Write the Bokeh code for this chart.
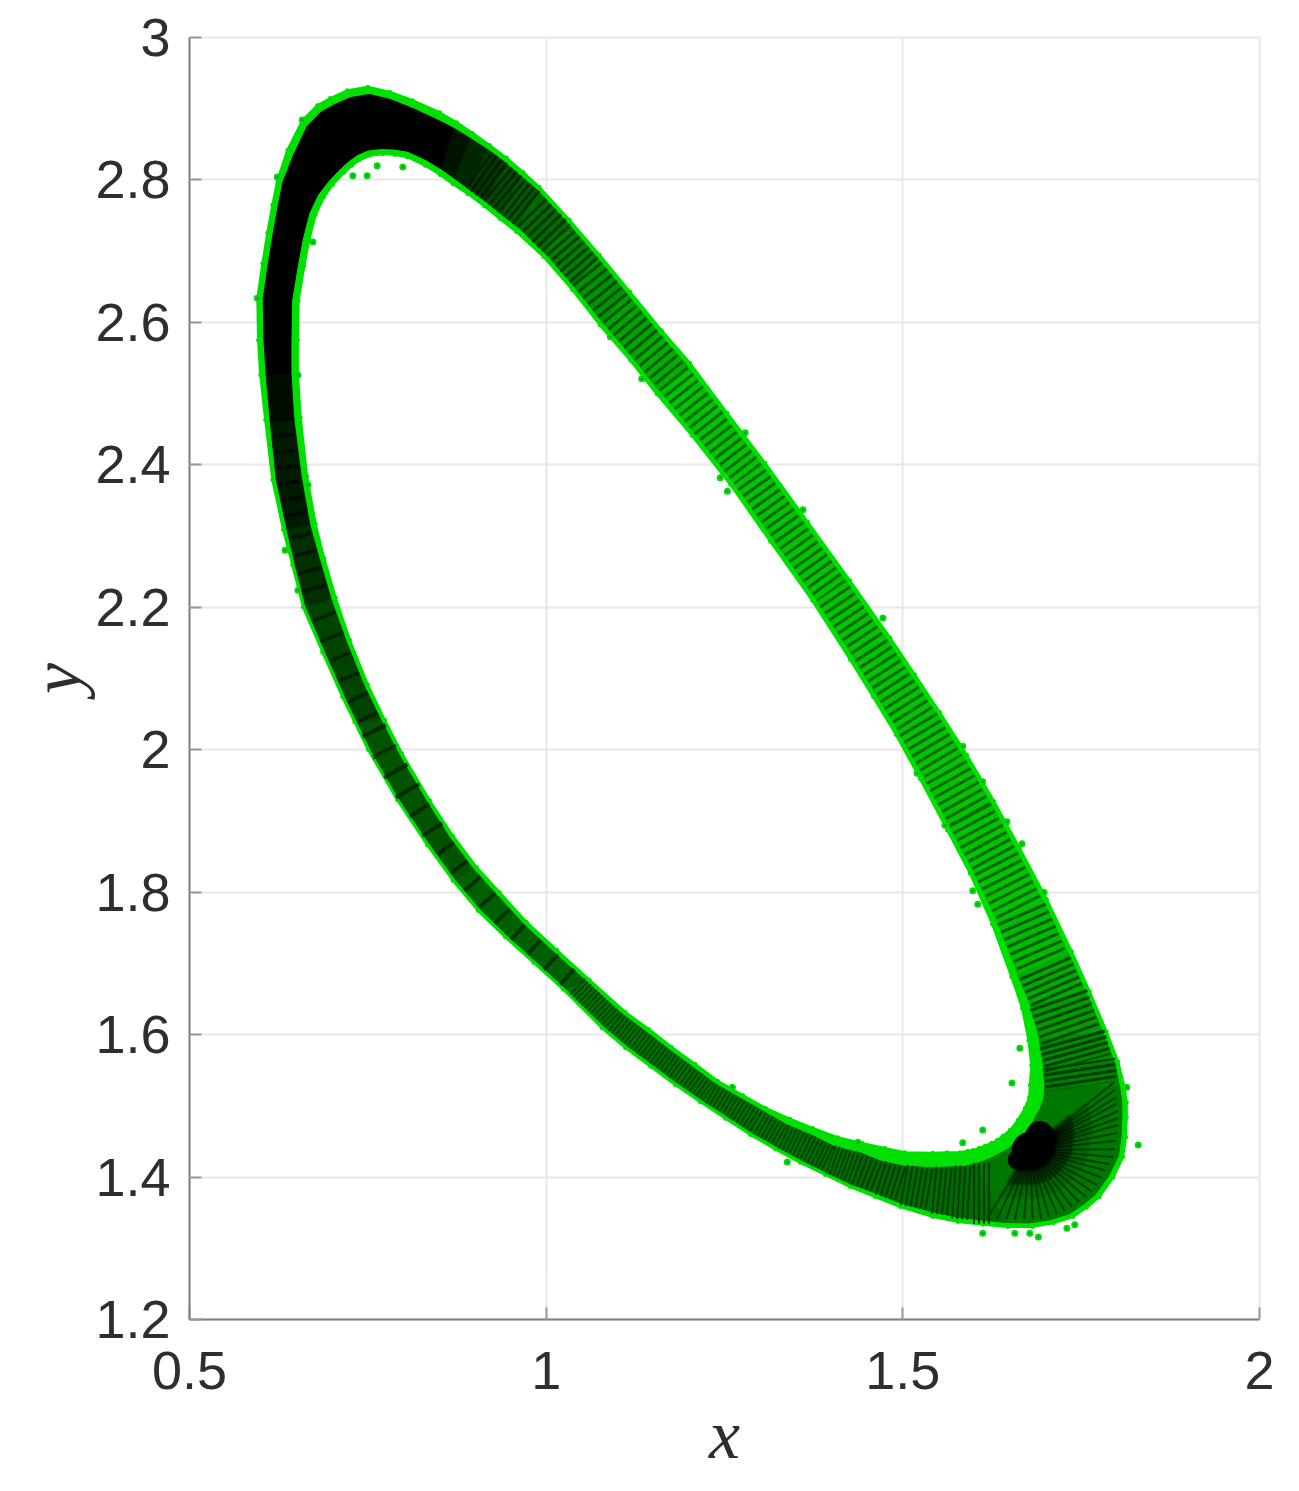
from bokeh.plotting import figure
from bokeh.models import Range1d, FixedTicker
from bokeh.embed import file_html
from bokeh.resources import INLINE
import math

# Outer and inner edge of the green band, paired station by station, clockwise from the apex
outer_x = [.750,.781,.813,.851,.875,.897,.921,.945,.968,.991,1.033,1.075,1.118,1.162,1.202,1.254,1.307,1.367,1.426,1.482,1.517,1.552,1.590,1.628,1.664,1.702,1.737,1.762,1.786,1.802,1.811,1.814,1.814,1.813,1.809,1.795,1.776,1.758,1.739,1.711,1.682,1.647,1.612,1.577,1.542,1.496,1.461,1.426,1.391,1.356,1.321,1.286,1.251,1.216,1.181,1.146,1.111,1.078,1.024,.982,.942,.904,.869,.833,.791,.750,.731,.714,.686,.659,.644,.631,.616,.606,.599,.596,.595,.602,.609,.616,.623,.637,.658,.679,.697,.721]
outer_y = [2.931,2.924,2.912,2.895,2.881,2.866,2.849,2.831,2.811,2.790,2.744,2.695,2.643,2.589,2.543,2.473,2.403,2.320,2.238,2.158,2.106,2.053,1.993,1.928,1.862,1.790,1.717,1.661,1.604,1.562,1.526,1.505,1.484,1.456,1.428,1.399,1.372,1.357,1.344,1.335,1.330,1.330,1.333,1.337,1.344,1.358,1.372,1.386,1.403,1.420,1.439,1.459,1.482,1.505,1.529,1.555,1.581,1.609,1.663,1.701,1.737,1.774,1.816,1.866,1.929,2.000,2.039,2.074,2.137,2.200,2.259,2.309,2.379,2.463,2.526,2.575,2.634,2.683,2.726,2.765,2.800,2.842,2.884,2.905,2.915,2.926]
inner_x = [.771,.788,.805,.830,.851,.869,.890,.913,.935,.958,.996,1.036,1.075,1.118,1.155,1.204,1.258,1.314,1.373,1.426,1.458,1.490,1.524,1.562,1.594,1.625,1.652,1.667,1.676,1.680,1.678,1.677,1.671,1.661,1.650,1.640,1.632,1.624,1.615,1.607,1.598,1.591,1.580,1.562,1.542,1.503,1.475,1.443,1.409,1.374,1.342,1.308,1.276,1.241,1.209,1.176,1.144,1.111,1.061,1.015,.973,.935,.903,.869,.837,.798,.774,.750,.725,.705,.689,.677,.665,.656,.652,.652,.653,.661,.668,.677,.689,.701,.717,.728,.739,.753]
inner_y = [2.836,2.835,2.832,2.820,2.807,2.794,2.780,2.763,2.745,2.727,2.692,2.646,2.596,2.546,2.499,2.441,2.372,2.292,2.209,2.126,2.074,2.021,1.959,1.887,1.826,1.755,1.681,1.637,1.592,1.557,1.529,1.512,1.497,1.480,1.466,1.458,1.452,1.448,1.444,1.441,1.438,1.437,1.435,1.435,1.434,1.435,1.441,1.448,1.456,1.469,1.482,1.497,1.515,1.535,1.559,1.583,1.608,1.632,1.677,1.719,1.758,1.800,1.835,1.880,1.929,1.995,2.042,2.092,2.154,2.214,2.269,2.317,2.384,2.466,2.529,2.575,2.630,2.679,2.716,2.751,2.776,2.793,2.810,2.820,2.828,2.834]

# Rim ends of the fan of strokes at the lower right, and where the fan meets
fan_x = [1.795,1.797,1.799,1.800,1.802,1.802,1.802,1.800,1.799,1.797,1.795,1.790,1.785,1.779,1.772,1.765,1.757,1.747,1.737,1.727,1.716,1.705,1.694,1.682,1.670,1.657,1.645,1.632,1.619]
fan_y = [1.532,1.522,1.512,1.503,1.493,1.483,1.473,1.462,1.451,1.439,1.428,1.418,1.409,1.399,1.389,1.380,1.372,1.365,1.358,1.352,1.348,1.344,1.341,1.340,1.340,1.340,1.341,1.341,1.343]
hub_x = [1.692,1.678,1.661]
hub_y = [1.459,1.438,1.424]
hub_size = [28,36,20]

# Stray points just off the band
stray_x = [1.653,1.612,1.584,1.664,1.830,1.814,1.612,1.657,1.678,1.690,1.730,1.741,.749,.763,.729,.799,.673,.623,.595,.658,1.090,1.134,1.244,1.254,1.360,1.279,.652,.666,.634,.652,1.472,1.584,1.520,1.612,1.646,1.667,1.598,1.605,1.698,1.559,1.261,1.437,1.338]
stray_y = [1.532,1.466,1.448,1.581,1.445,1.526,1.321,1.321,1.321,1.316,1.328,1.333,2.806,2.820,2.806,2.818,2.713,2.804,2.634,2.884,2.580,2.521,2.382,2.363,2.337,2.445,2.526,2.372,2.280,2.224,2.185,2.005,1.967,1.955,1.899,1.868,1.802,1.783,1.800,1.894,1.526,1.449,1.421]

x_ticks = [0.5, 1, 1.5, 2]
x_labels = ["0.5", "1", "1.5", "2"]
y_ticks = [1.2, 1.4, 1.6, 1.8, 2, 2.2, 2.4, 2.6, 2.8, 3]
y_labels = ["1.2", "1.4", "1.6", "1.8", "2", "2.2", "2.4", "2.6", "2.8", "3"]

RIM = "#00e000"
FRAME_W, FRAME_H = 1070, 1282
p = figure(width=1290, height=1485, output_backend="svg", toolbar_location=None,
           x_range=Range1d(0.5, 2), y_range=Range1d(1.2, 3),
           min_border_left=189, min_border_right=31, min_border_top=37, min_border_bottom=166,
           x_axis_label="x", y_axis_label="y")
p.background_fill_color = "white"
p.outline_line_color = "#e6e6e6"
p.outline_line_width = 2

for ax, ticks, labels in ((p.xaxis[0], x_ticks, x_labels), (p.yaxis[0], y_ticks, y_labels)):
    ax.ticker = FixedTicker(ticks=ticks)
    ax.major_label_overrides = dict(zip(ticks, labels))
    ax.minor_tick_line_color = None
    ax.major_tick_in = 12
    ax.major_tick_out = 0
    ax.major_tick_line_color = "#999999"
    ax.major_tick_line_width = 2
    ax.axis_line_color = "#808080"
    ax.axis_line_width = 2
    ax.major_label_text_font = "Liberation Sans"
    ax.major_label_text_font_size = "54px"
    ax.major_label_text_color = "#2e2e2e"
    ax.axis_label_text_font = "Liberation Serif"
    ax.axis_label_text_font_style = "italic"
    ax.axis_label_text_font_size = "70px"
    ax.axis_label_text_color = "#2e2e2e"
p.xaxis[0].major_label_standoff = 32
p.xaxis[0].axis_label_standoff = 4
p.yaxis[0].major_label_standoff = 19
p.yaxis[0].axis_label_standoff = -3
p.yaxis[0].major_label_orientation = "horizontal"
for g, ticks in ((p.xgrid[0], x_ticks), (p.ygrid[0], y_ticks)):
    g.ticker = FixedTicker(ticks=ticks)
    g.grid_line_color = "#e8e8e8"
    g.grid_line_width = 2

# Green band
p.patch(outer_x + outer_x[:1] + inner_x[:1] + inner_x[::-1], outer_y + outer_y[:1] + inner_y[:1] + inner_y[::-1],
        fill_color=RIM, line_color=RIM, line_width=2, line_join="round")
p.scatter(outer_x + inner_x, outer_y + inner_y, size=4, fill_color=RIM, line_color=None)
p.scatter(stray_x, stray_y, size=7, fill_color=RIM, line_color=None)
p.scatter(stray_x, stray_y, size=3, fill_color="#2f8f4f", line_color=None)

N = len(outer_x)
# (first station, last station, tone, stroke colour, dash, outer rim px, inner rim px)
ranges = [
    (0, 3, "#000000", None, None, 8, 6),
    (4, 4, "#001400", None, None, 7, 6),
    (5, 5, "#002800", None, None, 6, 6),
    (6, 6, "#003800", "#001c00", "3 3", 5, 5),
    (7, 7, "#004c00", "#002800", "3 3", 5, 5),
    (8, 8, "#005c00", "#003000", "3 3", 5, 5),
    (9, 9, "#006c00", "#003800", "3 4", 4, 5),
    (10, 10, "#008000", "#004000", "3 4", 4, 4),
    (11, 11, "#009400", "#004c00", "3 5", 4, 4),
    (12, 12, "#00a400", "#005400", "3 5", 4, 4),
    (13, 13, "#00b000", "#005c00", "3 5", 4, 4),
    (14, 24, "#00c400", "#006800", "3 5", 4, 4),
    (25, 25, "#00bc00", "#005c00", "3 5", 4, 6),
    (26, 26, "#00ac00", "#005000", "3 4", 4, 7),
    (27, 27, "#009c00", "#004800", "3 4", 4, 9),
    (28, 28, "#008c00", "#004000", "3 3", 4, 11),
    (29, 29, "#008000", "#003c00", "3 3", 4, 12),
    (30, 40, "#007800", None, None, 5, 15),
    (41, 44, "#006c00", "#003c00", "2 3", 5, 15),
    (45, 46, "#006a00", "#003c00", "2 3", 4, 14),
    (47, 48, "#007000", "#004400", "2 2", 3, 10),
    (49, 50, "#007400", "#004800", "2 2", 3, 7),
    (51, 57, "#007400", "#004800", "2 2", 3, 4),
    (58, 61, "#006000", "#003400", "4 18", 3, 4),
    (62, 65, "#005400", "#002c00", "4 19", 3, 4),
    (66, 68, "#004400", "#002400", "4 18", 3, 4),
    (69, 70, "#003000", "#001800", "4 14", 3, 5),
    (71, 72, "#001c00", "#000c00", "4 12", 4, 6),
    (73, 73, "#000c00", None, None, 5, 7),
    (74, 80, "#000000", None, None, 6, 7),
    (81, 85, "#000000", None, None, 8, 6),
]
looks = [None] * N
for first, last, *look in ranges:
    for i in range(first, last + 1):
        looks[i] = look

sx = FRAME_W / 1.5
sy = FRAME_H / 1.8
def ends(i):
    dx = (inner_x[i] - outer_x[i]) * sx
    dy = (inner_y[i] - outer_y[i]) * sy
    length = math.hypot(dx, dy)
    a = looks[i][3] / length
    b = looks[i][4] / length
    ox = outer_x[i] + (inner_x[i] - outer_x[i]) * a
    oy = outer_y[i] + (inner_y[i] - outer_y[i]) * a
    ix = inner_x[i] - (inner_x[i] - outer_x[i]) * b
    iy = inner_y[i] - (inner_y[i] - outer_y[i]) * b
    return ox, oy, ix, iy, length - looks[i][3] - looks[i][4]

quads_x, quads_y, tones = [], [], []
for i in range(N):
    j = (i + 1) % N
    a, b = ends(i), ends(j)
    quads_x.append([a[0], b[0], b[2], a[2]])
    quads_y.append([a[1], b[1], b[3], a[3]])
    tones.append(looks[i][0])
p.patches(quads_x, quads_y, fill_color=tones, line_color=tones, line_width=1)

travel = 0.0
for i in range(N):
    j = (i + 1) % N
    a, b = ends(i), ends(j)
    ax0, ay0 = (a[0] + a[2]) / 2, (a[1] + a[3]) / 2
    bx0, by0 = (b[0] + b[2]) / 2, (b[1] + b[3]) / 2
    seg = math.hypot((ax0 - bx0) * sx, (ay0 - by0) * sy)
    stroke, dash = looks[i][1], looks[i][2]
    if stroke:
        p.line([ax0, bx0], [ay0, by0], line_color=stroke, line_dash=dash,
               line_dash_offset=int(travel),
               line_width=(a[4] + b[4]) / 2, line_cap="butt")
    travel += seg

# Fan at the lower right, darkening towards the point where it meets
hx, hy = hub_x[1], hub_y[1]
p.segment([hx] * len(fan_x), [hy] * len(fan_y), fan_x, fan_y,
          line_color="#004000", line_width=2)
for reach, alpha, w in ((0.7, 0.10, 6), (0.5, 0.22, 7), (0.3, 0.35, 8)):
    p.segment([hx] * len(fan_x), [hy] * len(fan_y),
              [hx + (fx - hx) * reach for fx in fan_x],
              [hy + (fy - hy) * reach for fy in fan_y],
              line_color="black", line_alpha=alpha, line_width=w)
p.scatter(hub_x, hub_y, size=hub_size, fill_color="black", line_color=None)

open("out.html", "w").write(file_html(p, INLINE))
